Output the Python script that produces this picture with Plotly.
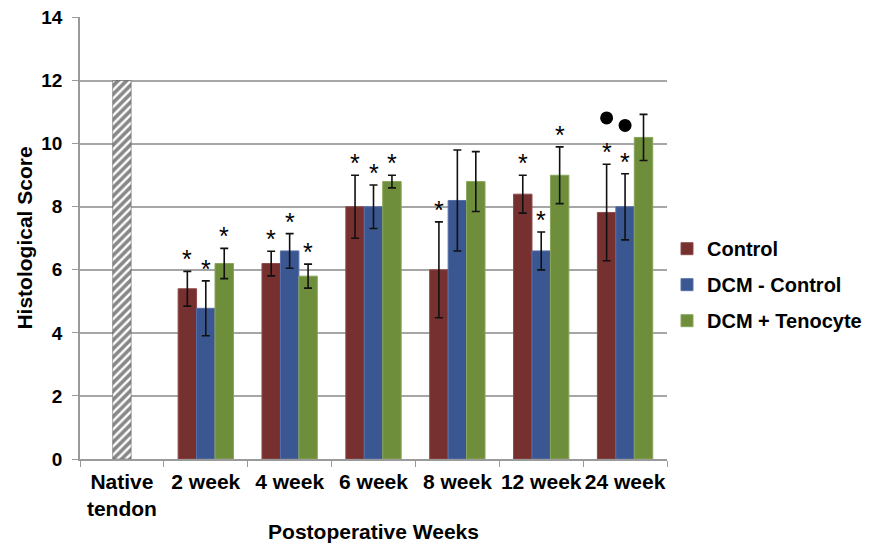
import plotly.graph_objects as go

categories = ["Native<br>tendon", "2 week", "4 week", "6 week", "8 week", "12 week", "24 week"]
weeks = categories[1:]

native_value = [12]

control = [5.4, 6.2, 8.0, 6.0, 8.4, 7.82]
control_err = [0.55, 0.39, 1.0, 1.52, 0.6, 1.53]
dcm_control = [4.78, 6.6, 8.0, 8.2, 6.6, 8.0]
dcm_control_err = [0.87, 0.55, 0.69, 1.6, 0.6, 1.05]
dcm_teno = [6.2, 5.8, 8.8, 8.8, 9.0, 10.2]
dcm_teno_err = [0.48, 0.38, 0.2, 0.95, 0.9, 0.73]

sig_control = ["*", "*", "*", "*", "*", "*"]
sig_dcm_control = ["*", "*", "*", "", "*", "*"]
sig_dcm_teno = ["*", "*", "*", "", "*", ""]

dot_week = ["24 week", "24 week"]
dot_series = ["Control", "DCM - Control"]
dot_y = [10.82, 10.58]

y_ticks = [0, 2, 4, 6, 8, 10, 12, 14]

names = ["Control", "DCM - Control", "DCM + Tenocyte"]
colors = ["#76302F", "#3B5791", "#6E8E3B"]
edges = ["#8E4A49", "#5670A8", "#88A65A"]

BW = 0.22
offsets = [-1.5 * BW, -0.5 * BW, 0.5 * BW]

FONT = "Liberation Sans, Arial, sans-serif"

fig = go.Figure()

fig.add_trace(go.Bar(
    x=[categories[0]], y=native_value, width=BW, offset=-BW / 2,
    marker=dict(color="white", line=dict(color="#444444", width=0.5),
                pattern=dict(shape="/", fgcolor="#111111", bgcolor="white", size=6, solidity=0.6)),
    showlegend=False, hoverinfo="skip"))

series = [(control, control_err, sig_control),
          (dcm_control, dcm_control_err, sig_dcm_control),
          (dcm_teno, dcm_teno_err, sig_dcm_teno)]

annotations = []
for k, (vals, errs, sigs) in enumerate(series):
    fig.add_trace(go.Bar(
        x=weeks, y=vals, width=BW, offset=offsets[k], name=names[k],
        legendgroup=names[k],
        marker=dict(color=colors[k], line=dict(color=edges[k], width=1)),
        error_y=dict(type="data", array=errs, visible=True, color="#111111", thickness=1.6, width=4),
    ))
    for i, w in enumerate(weeks):
        if sigs[i]:
            annotations.append(dict(
                x=categories.index(w) + offsets[k] + BW / 2, y=vals[i] + errs[i],
                xref="x", yref="y", text=sigs[i], showarrow=False,
                yanchor="bottom", yshift=-4,
                font=dict(family=FONT, size=25, color="black")))

dx = [categories.index(w) + offsets[names.index(s)] + BW / 2 for w, s in zip(dot_week, dot_series)]
fig.add_trace(go.Scatter(
    x=dx, y=dot_y, xaxis="x2", mode="markers",
    marker=dict(color="black", size=13, symbol="circle"),
    showlegend=False, hoverinfo="skip"))

fig.update_layout(
    width=874, height=545,
    margin=dict(l=72, r=215, t=9, b=94),
    plot_bgcolor="white", paper_bgcolor="white",
    barmode="overlay",
    font=dict(family=FONT, color="black"),
    annotations=annotations,
    xaxis=dict(
        type="category", categoryorder="array", categoryarray=categories,
        range=[-0.5, 6.5], automargin=False, tickangle=0,
        showline=True, linecolor="#9A9A9A", linewidth=1.5,
        ticks="outside", tickson="boundaries", ticklen=6, tickcolor="#9A9A9A",
        tickfont=dict(family=FONT, size=21, weight="bold", color="black"),
        ticklabelstandoff=3,
        showgrid=False,
        title=dict(text="Postoperative Weeks", font=dict(family=FONT, size=21, weight="bold"), standoff=5),
    ),
    xaxis2=dict(overlaying="x", range=[-0.5, 6.5], visible=False),
    yaxis=dict(
        range=[0, 14.02], tickmode="array", tickvals=y_ticks, automargin=False,
        showline=True, linecolor="#9A9A9A", linewidth=1.5,
        showgrid=True, gridcolor="#A6A6A6", gridwidth=1.5,
        ticks="outside", ticklen=6, tickcolor="#9A9A9A",
        tickfont=dict(family=FONT, size=19, weight="bold", color="black"),
        ticklabelstandoff=6, ticklabeloverflow="allow",
        zeroline=False,
        title=dict(text="Histological Score", font=dict(family=FONT, size=21, weight="bold"), standoff=3),
    ),
    legend=dict(
        x=1.0, xanchor="left", y=0.52, yanchor="top",
        font=dict(family=FONT, size=20, weight="bold", color="black"),
        tracegroupgap=7, bgcolor="rgba(0,0,0,0)",
    ),
)

fig.write_html("out.html")
